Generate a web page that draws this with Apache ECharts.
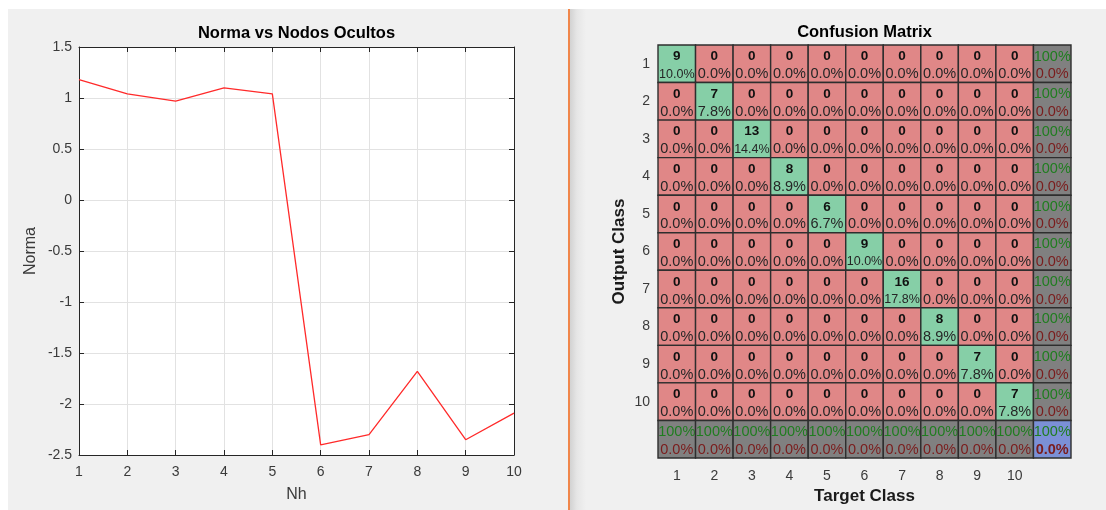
<!DOCTYPE html>
<html>
<head>
<meta charset="utf-8">
<script src="https://cdn.jsdelivr.net/npm/echarts@6/dist/echarts.min.js"></script>
<style>
  html, body { margin: 0; padding: 0; background: #ffffff; }
  #wrap { position: relative; width: 1106px; height: 510px; overflow: hidden; }
  .panel { position: absolute; top: 9px; bottom: 0; }
  #panelL { left: 8px; width: 560px; background: #f0f0f0; }
  #sep { left: 568px; width: 2px; background: #f0864a; }
  #panelR { left: 570px; right: 0; background: linear-gradient(to right, #d2d2d2 0px, #e6e6e6 7px, #f0f0f0 16px); }
  #chart { position: absolute; left: 0; top: 0; width: 1106px; height: 510px; }
</style>
</head>
<body>
<div id="wrap">
  <div class="panel" id="panelL"></div>
  <div class="panel" id="sep"></div>
  <div class="panel" id="panelR"></div>
  <div id="chart"></div>
</div>
<script>
// Norma per number of hidden nodes (Nh = 1..10)
const nhValues = [1, 2, 3, 4, 5, 6, 7, 8, 9, 10];
const normaValues = [1.18, 1.04, 0.97, 1.10, 1.04, -2.40, -2.30, -1.68, -2.35, -2.09];

// Confusion matrix: diagonal counts per class, all off-diagonal cells are zero
const classLabels = ['1', '2', '3', '4', '5', '6', '7', '8', '9', '10'];
const diagonalCounts = [9, 7, 13, 8, 6, 9, 16, 8, 7, 7];

const FONT = "'Liberation Sans', Arial, Helvetica, sans-serif";
const nClass = classLabels.length;
const total = diagonalCounts.reduce((a, b) => a + b, 0);

// full matrix (rows = output class, cols = target class)
const matrix = classLabels.map((_, r) => classLabels.map((_, c) => (r === c ? diagonalCounts[r] : 0)));
const rowSums = matrix.map(row => row.reduce((a, b) => a + b, 0));
const colSums = classLabels.map((_, c) => matrix.reduce((a, row) => a + row[c], 0));
const correct = diagonalCounts.reduce((a, b) => a + b, 0);

function pct(v) { return (100 * v).toFixed(1) + '%'; }
function pctSummary(v) { return v >= 1 ? '100%' : (100 * v).toFixed(1) + '%'; }

// cells: [col, row, topText, bottomText, kind]
const cells = [];
for (let r = 0; r < nClass; r++) {
  for (let c = 0; c < nClass; c++) {
    const v = matrix[r][c];
    cells.push([c, r, String(v), pct(v / total), r === c ? 'hit' : 'miss']);
  }
  const good = rowSums[r] ? matrix[r][r] / rowSums[r] : 0;
  cells.push([nClass, r, pctSummary(good), pctSummary(1 - good), 'sum']);
}
for (let c = 0; c < nClass; c++) {
  const good = colSums[c] ? matrix[c][c] / colSums[c] : 0;
  cells.push([c, nClass, pctSummary(good), pctSummary(1 - good), 'sum']);
}
cells.push([nClass, nClass, pctSummary(correct / total), pctSummary(1 - correct / total), 'all']);

const fills = { hit: '#86cfa7', miss: '#e08787', sum: '#808080', all: '#7b90d6' };

const chart = echarts.init(document.getElementById('chart'), null, { renderer: 'canvas' });

const axisColor = '#262626';
const labelStyle = { fontFamily: FONT, fontSize: 14, color: '#3a3a3a' };

chart.setOption({
  animation: false,
  backgroundColor: 'transparent',
  graphic: [
    { type: 'text', x: 296.5, y: 33, style: { text: 'Norma vs Nodos Ocultos', font: 'bold 16.5px ' + FONT, fill: '#000', textAlign: 'center', textVerticalAlign: 'middle', verticalAlign: 'middle' } },
    { type: 'text', x: 864.5, y: 32, style: { text: 'Confusion Matrix', font: 'bold 16.5px ' + FONT, fill: '#000', textAlign: 'center', textVerticalAlign: 'middle', verticalAlign: 'middle' } }
  ],
  grid: [
    { left: 79, top: 47, width: 435, height: 408, show: true, backgroundColor: '#ffffff', borderWidth: 0 },
    { left: 658, top: 45, width: 413, height: 414, show: false }
  ],
  xAxis: [
    {
      gridIndex: 0, type: 'value', min: 1, max: 10, interval: 1, position: 'bottom',
      name: 'Nh', nameLocation: 'middle', nameGap: 32,
      nameTextStyle: { fontFamily: FONT, fontSize: 16, color: '#3a3a3a' },
      axisLine: { show: true, onZero: false, lineStyle: { color: axisColor, width: 1 } },
      axisTick: { show: true, inside: true, length: 5, lineStyle: { color: axisColor } },
      axisLabel: Object.assign({ margin: 10 }, labelStyle),
      splitLine: { show: true, lineStyle: { color: '#e2e2e2', width: 1 } }
    },
    {
      gridIndex: 0, type: 'value', min: 1, max: 10, interval: 1, position: 'top',
      axisLine: { show: true, onZero: false, lineStyle: { color: axisColor, width: 1 } },
      axisTick: { show: true, inside: true, length: 5, lineStyle: { color: axisColor } },
      axisLabel: { show: false }, splitLine: { show: false }
    },
    {
      gridIndex: 1, type: 'category', data: classLabels.concat(['']), position: 'bottom',
      name: 'Target Class', nameLocation: 'middle', nameGap: 30,
      nameTextStyle: { fontFamily: FONT, fontSize: 17, fontWeight: 'bold', color: '#1a1a1a' },
      axisLine: { show: false }, axisTick: { show: false }, splitLine: { show: false },
      axisLabel: Object.assign({ margin: 11, interval: 0 }, labelStyle)
    }
  ],
  yAxis: [
    {
      gridIndex: 0, type: 'value', min: -2.5, max: 1.5, interval: 0.5, position: 'left',
      name: 'Norma', nameLocation: 'middle', nameGap: 40, nameRotate: 90,
      nameTextStyle: { fontFamily: FONT, fontSize: 16, color: '#3a3a3a' },
      axisLine: { show: true, onZero: false, lineStyle: { color: axisColor, width: 1 } },
      axisTick: { show: true, inside: true, length: 5, lineStyle: { color: axisColor } },
      axisLabel: Object.assign({ margin: 7 }, labelStyle),
      splitLine: { show: true, lineStyle: { color: '#e2e2e2', width: 1 } }
    },
    {
      gridIndex: 0, type: 'value', min: -2.5, max: 1.5, interval: 0.5, position: 'right',
      axisLine: { show: true, onZero: false, lineStyle: { color: axisColor, width: 1 } },
      axisTick: { show: true, inside: true, length: 5, lineStyle: { color: axisColor } },
      axisLabel: { show: false }, splitLine: { show: false }
    },
    {
      gridIndex: 1, type: 'category', data: classLabels.concat(['']), inverse: true, position: 'left',
      name: 'Output Class', nameLocation: 'middle', nameGap: 30, nameRotate: 90,
      nameTextStyle: { fontFamily: FONT, fontSize: 17, fontWeight: 'bold', color: '#1a1a1a' },
      axisLine: { show: false }, axisTick: { show: false }, splitLine: { show: false },
      axisLabel: Object.assign({ margin: 8, interval: 0 }, labelStyle)
    }
  ],
  series: [
    {
      type: 'line', xAxisIndex: 0, yAxisIndex: 0,
      data: nhValues.map((x, i) => [x, normaValues[i]]),
      showSymbol: false, symbol: 'none',
      lineStyle: { color: '#ff2a2a', width: 1.3 },
      z: 5
    },
    {
      type: 'custom', xAxisIndex: 2, yAxisIndex: 2,
      data: cells,
      renderItem: function (params, api) {
        const item = cells[params.dataIndex];
        const p = api.coord([item[0], item[1]]);
        const s = api.size([1, 1]);
        const x0 = p[0] - s[0] / 2, y0 = p[1] - s[1] / 2;
        const kind = item[4];
        const isSum = kind === 'sum' || kind === 'all';
        const topText = item[2], botText = item[3];
        const botSize = botText.length > 4 ? 12.5 : 14.5;
        return {
          type: 'group',
          children: [
            {
              type: 'rect',
              shape: { x: x0, y: y0, width: s[0], height: s[1] },
              style: { fill: fills[kind], stroke: '#2e2e2e', lineWidth: 1.4 }
            },
            {
              type: 'text',
              x: p[0], y: y0 + s[1] * 0.31,
              style: {
                text: topText,
                font: (isSum ? '' : 'bold ') + (isSum ? 14.5 : 13.5) + 'px ' + FONT,
                fill: isSum ? '#1f7d1f' : '#111111',
                textAlign: 'center', textVerticalAlign: 'middle', verticalAlign: 'middle'
              }
            },
            {
              type: 'text',
              x: p[0], y: y0 + s[1] * 0.78,
              style: {
                text: botText,
                font: (kind === 'all' ? 'bold ' : '') + botSize + 'px ' + FONT,
                fill: isSum ? '#7a1c1c' : '#262626',
                textAlign: 'center', textVerticalAlign: 'middle', verticalAlign: 'middle'
              }
            }
          ]
        };
      }
    }
  ]
});
</script>
</body>
</html>
